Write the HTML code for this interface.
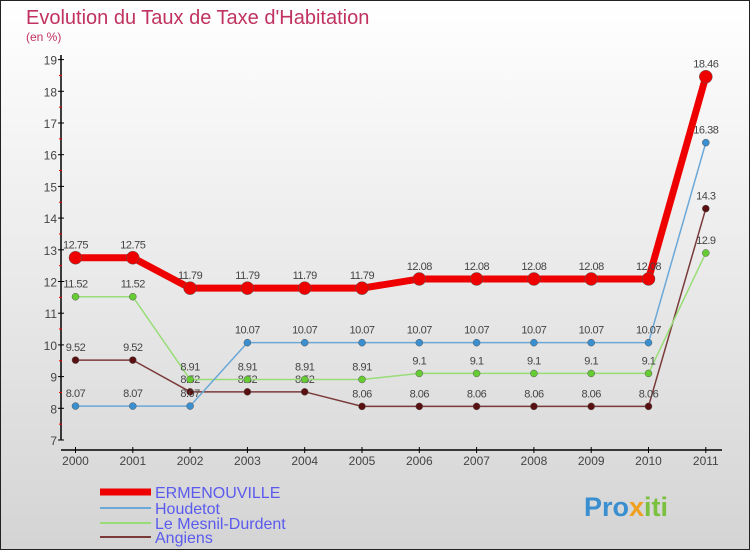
<!DOCTYPE html>
<html><head><meta charset="utf-8"><style>
body{margin:0;width:750px;height:550px;overflow:hidden;font-family:"Liberation Sans",sans-serif}
</style></head><body>
<svg width="750" height="550" xmlns="http://www.w3.org/2000/svg">
<defs><linearGradient id="bg" x1="0" y1="0" x2="0" y2="1"><stop offset="0" stop-color="#ffffff"/><stop offset="1" stop-color="#d4d4d4"/></linearGradient></defs>
<rect x="0.5" y="0.5" width="749" height="549" fill="url(#bg)" stroke="#222"/>
<text x="26" y="24" font-size="20" fill="#c0325f">Evolution du Taux de Taxe d'Habitation</text>
<text x="26" y="41" font-size="12" fill="#c0325f">(en %)</text>
<g id="axes"></g><g id="series"></g><g id="legend"></g>
<text x="584" y="516" font-size="27" font-weight="bold" fill="#3a8fd0">Pro<tspan fill="#f0a020">x</tspan><tspan fill="#7cc040">iti</tspan></text>
</svg>
<script>
const years=[2000,2001,2002,2003,2004,2005,2006,2007,2008,2009,2010,2011];
const yTicks=[7,8,9,10,11,12,13,14,15,16,17,18,19];
const ermenouville=[12.75,12.75,11.79,11.79,11.79,11.79,12.08,12.08,12.08,12.08,12.08,18.46];
const houdetot=[8.07,8.07,8.07,10.07,10.07,10.07,10.07,10.07,10.07,10.07,10.07,16.38];
const mesnil=[11.52,11.52,8.91,8.91,8.91,8.91,9.1,9.1,9.1,9.1,9.1,12.9];
const angiens=[9.52,9.52,8.52,8.52,8.52,8.06,8.06,8.06,8.06,8.06,8.06,14.3];
const NS="http://www.w3.org/2000/svg";
const xs=i=>75.5+i*57.3;
const ys=v=>440-(v-7)*31.7;
function mk(tag,attrs,parent){const e=document.createElementNS(NS,tag);for(const k in attrs)e.setAttribute(k,attrs[k]);parent.appendChild(e);return e;}
const ax=document.getElementById('axes');
let l=mk('line',{x1:61,y1:55,x2:61,y2:440,stroke:'#000','stroke-width':1.5},ax);


l=mk('line',{x1:61,y1:450,x2:722,y2:450,stroke:'#000','stroke-width':1.5},ax);


yTicks.forEach(t=>{
 const y=ys(t);
 mk('line',{x1:58,y1:y,x2:64,y2:y,stroke:'#000'},ax);
 if(t<19)mk('line',{x1:59,y1:y-15.85,x2:62,y2:y-15.85,stroke:'#e00'},ax);
 const tx=mk('text',{x:57,y:y+5,'font-size':12,fill:'#444','text-anchor':'end'},ax);
 tx.textContent=t;
 
 
});
years.forEach((yr,i)=>{
 mk('line',{x1:xs(i),y1:447,x2:xs(i),y2:453,stroke:'#000'},ax);
 const tx=mk('text',{x:xs(i),y:465,'font-size':12,fill:'#444','text-anchor':'middle'},ax);
 tx.textContent=yr;
 
 
});
const sg=document.getElementById('series');
const series=[
 {name:'angiens',data:angiens,color:'#7a3a3a',dot:'#5a1010',w:1.5,r:3.5},
 {name:'mesnil',data:mesnil,color:'#99dd77',dot:'#66cc33',w:1.5,r:3.5},
 {name:'houdetot',data:houdetot,color:'#6aa8d8',dot:'#3a8fd0',w:1.5,r:3.5},
 {name:'ermenouville',data:ermenouville,color:'#ee0000',dot:'#ee0000',w:7,r:6.5}
];
series.forEach(s=>{
 const p=mk('polyline',{points:s.data.map((v,i)=>xs(i)+','+ys(v)).join(' '),fill:'none',stroke:s.color,'stroke-width':s.w},sg);
 
 
 s.data.forEach((v,i)=>{
  const c=mk('circle',{cx:xs(i),cy:ys(v),r:s.r,fill:s.dot,stroke:'#555','stroke-width':0.5},sg);
  
  
  const t=mk('text',{x:xs(i),y:ys(v)-9,'font-size':11,fill:'#444','text-anchor':'middle','letter-spacing':'-0.5'},sg);
  t.textContent=v;
  
  
 });
});
const lg=document.getElementById('legend');
const leg=[['ERMENOUVILLE','#ee0000',7,492],['Houdetot','#6aa8d8',2,508],['Le Mesnil-Durdent','#99dd77',2,523],['Angiens','#7a3a3a',2,537]];
leg.forEach(e=>{
 const g=mk('g',{},lg);
 
 
 mk('line',{x1:100,y1:e[3],x2:151,y2:e[3],stroke:e[1],'stroke-width':e[2]},g);
 const t=mk('text',{x:155,y:e[3]+6,'font-size':16,fill:'#5a5aee'},g);
 t.textContent=e[0];
});
</script>
</body></html>
